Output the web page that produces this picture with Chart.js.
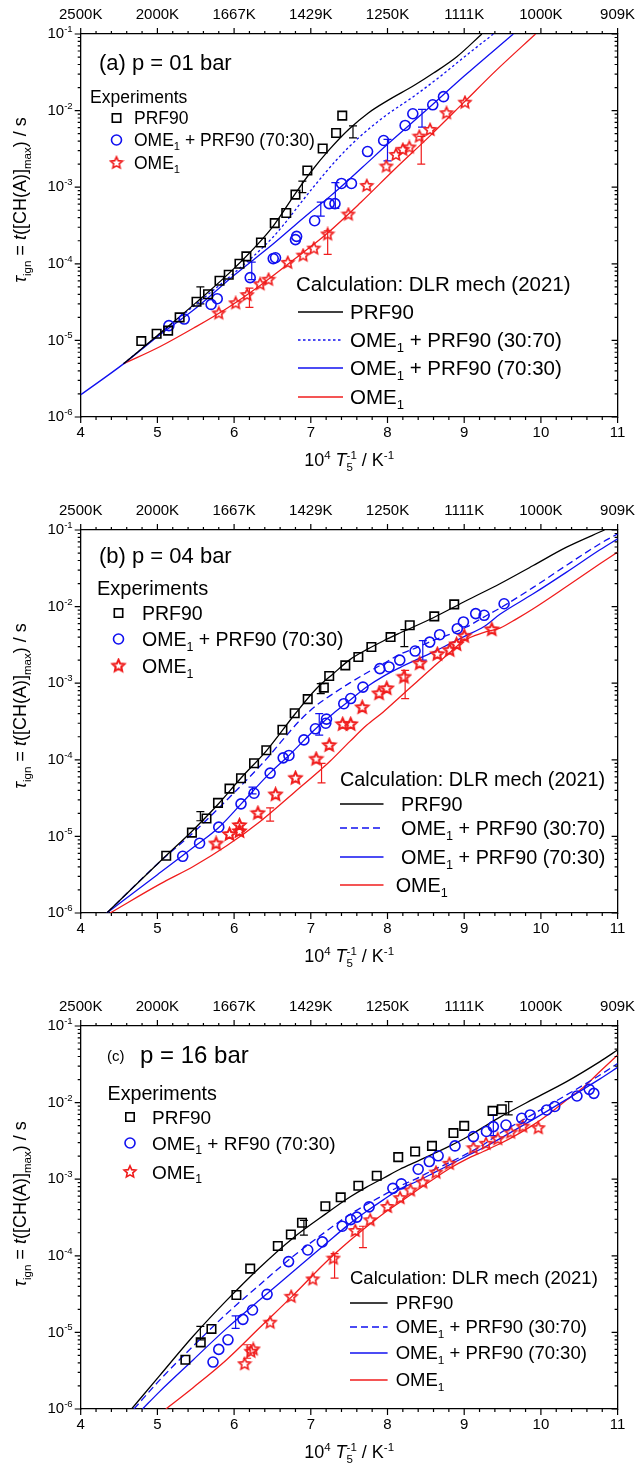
<!DOCTYPE html>
<html>
<head>
<meta charset="utf-8">
<title>Ignition delay times, DLR mech (2021)</title>
<script src="https://cdn.jsdelivr.net/npm/chart.js@4.4.1/dist/chart.umd.min.js"></script>
<style>
  html, body { margin: 0; padding: 0; background: #fff; }
  .panel { position: relative; width: 635px; }
</style>
</head>
<body>
<div class="panel" style="height:496px"><canvas id="chartA"></canvas></div>
<div class="panel" style="height:496px"><canvas id="chartB"></canvas></div>
<div class="panel" style="height:475px"><canvas id="chartC"></canvas></div>
<script>
// ---- data: [10^4/T, tau (s)] ----
const topTickLabels = ['2500K', '2000K', '1667K', '1429K', '1250K', '1111K', '1000K', '909K'];

// (a) p = 01 bar
const expA_PRF90 = [[4.79,9.8e-6],[4.99,1.22e-5],[5.14,1.34e-5],[5.29,2.0e-5],[5.51,3.2e-5],[5.66,4.0e-5],[5.81,6.0e-5],[5.93,7.2e-5],[6.07,1.0e-4],[6.16,1.25e-4],[6.35,1.9e-4],[6.53,3.4e-4],[6.68,4.6e-4],[6.80,8.0e-4],[6.955,1.65e-3],[7.155,3.2e-3],[7.33,5.1e-3],[7.41,8.6e-3]];
const expA_7030 = [[5.15,1.56e-5],[5.35,1.9e-5],[5.70,2.95e-5],[5.78,3.5e-5],[6.21,6.6e-5],[6.51,1.17e-4],[6.54,1.2e-4],[6.80,2.07e-4],[6.815,2.28e-4],[7.05,3.65e-4],[7.24,6.1e-4],[7.315,6.1e-4],[7.40,1.12e-3],[7.53,1.12e-3],[7.74,2.92e-3],[7.95,4.07e-3],[8.23,6.4e-3],[8.33,9.1e-3],[8.59,1.19e-2],[8.73,1.52e-2]];
const expA_OME1 = [[5.80,2.25e-5],[6.02,3.05e-5],[6.17,3.9e-5],[6.34,5.4e-5],[6.45,6.2e-5],[6.70,1.03e-4],[6.90,1.28e-4],[7.04,1.58e-4],[7.22,2.42e-4],[7.49,4.4e-4],[7.73,1.04e-3],[7.985,1.86e-3],[8.11,2.64e-3],[8.20,3.08e-3],[8.285,3.3e-3],[8.415,4.58e-3],[8.555,5.6e-3],[8.77,9.25e-3],[9.01,1.27e-2]];
// error bars: [x, low, high]
const errA_PRF90 = [[5.56,3.0e-5,5.0e-5],[6.89,8.5e-4,1.2e-3],[7.55,4.4e-3,6.3e-3]];
const errA_7030 = [[6.23,6.2e-5,1.05e-4],[7.13,4.2e-4,6.4e-4],[7.32,5.3e-4,1.15e-3],[8.0,2.2e-3,4.2e-3],[8.45,6.1e-3,1.04e-2]];
const errA_OME1 = [[6.2,2.7e-5,4.8e-5],[7.22,1.33e-4,2.7e-4],[8.44,2.0e-3,4.6e-3]];
const calcA_PRF90 = [[4.558,4.94e-6],[5.0,1.16e-5],[5.5,3.09e-5],[6.0,8.71e-5],[6.5,3.02e-4],[6.8,8.32e-4],[7.0,1.58e-3],[7.25,3.16e-3],[7.5,5.75e-3],[7.75,9.33e-3],[8.0,1.35e-2],[8.35,2.14e-2],[8.6,3.09e-2],[8.9,5.01e-2],[9.23,1.0e-1]];
const calcA_3070 = [[4.558,4.94e-6],[5.0,1.15e-5],[5.5,2.95e-5],[6.0,7.59e-5],[6.5,2.19e-4],[7.033,1.0e-3],[7.337,2.28e-3],[7.641,4.58e-3],[7.99,8.79e-3],[8.337,1.52e-2],[8.685,2.78e-2],[9.033,5.32e-2],[9.381,1.0e-1]];
const calcA_7030 = [[4.0,1.95e-6],[4.558,4.94e-6],[5.0,1.12e-5],[5.5,2.63e-5],[6.0,7.08e-5],[6.5,1.78e-4],[6.79,3.16e-4],[7.0,4.79e-4],[7.25,7.59e-4],[7.5,1.26e-3],[7.75,2.14e-3],[8.0,3.63e-3],[8.5,1.0e-2],[9.0,2.82e-2],[9.64,1.0e-1]];
const calcA_OME1 = [[4.558,4.94e-6],[5.037,8.32e-6],[5.473,1.45e-5],[5.908,2.63e-5],[6.344,5.25e-5],[6.78,1.135e-4],[7.216,2.51e-4],[7.65,6.31e-4],[8.1,1.74e-3],[8.554,4.68e-3],[8.989,1.26e-2],[9.424,3.4e-2],[9.93,1.0e-1]];

// (b) p = 04 bar
const expB_PRF90 = [[5.115,5.6e-6],[5.45,1.12e-5],[5.64,1.71e-5],[5.79,2.74e-5],[5.94,4.2e-5],[6.09,5.75e-5],[6.26,9.0e-5],[6.42,1.33e-4],[6.63,2.47e-4],[6.79,4.05e-4],[6.96,6.2e-4],[7.17,8.75e-4],[7.24,1.24e-3],[7.45,1.71e-3],[7.62,2.2e-3],[7.79,2.97e-3],[8.04,4.0e-3],[8.29,5.7e-3],[8.61,7.45e-3],[8.87,1.07e-2]];
const expB_7030 = [[5.33,5.5e-6],[5.55,8.15e-6],[5.80,1.32e-5],[6.09,2.66e-5],[6.26,3.66e-5],[6.47,6.7e-5],[6.64,1.06e-4],[6.715,1.14e-4],[6.91,1.82e-4],[7.06,2.54e-4],[7.195,3.0e-4],[7.205,3.4e-4],[7.43,5.4e-4],[7.52,6.3e-4],[7.68,8.9e-4],[7.90,1.55e-3],[8.02,1.63e-3],[8.16,2.0e-3],[8.36,2.63e-3],[8.55,3.44e-3],[8.68,4.3e-3],[8.91,5.15e-3],[8.99,6.3e-3],[9.15,8.1e-3],[9.26,7.7e-3],[9.52,1.09e-2]];
const expB_OME1 = [[5.765,8.0e-6],[5.94,1.06e-5],[6.07,1.16e-5],[6.07,1.39e-5],[6.31,2.0e-5],[6.54,3.5e-5],[6.80,5.75e-5],[7.07,1.02e-4],[7.24,1.54e-4],[7.415,2.9e-4],[7.52,2.9e-4],[7.67,4.8e-4],[7.89,7.3e-4],[7.99,8.5e-4],[8.215,1.2e-3],[8.42,1.8e-3],[8.65,2.38e-3],[8.81,2.69e-3],[8.90,3.2e-3],[9.0,4.1e-3],[9.36,5.0e-3]];
const errB_PRF90 = [[5.56,1.6e-5,2.1e-5],[7.13,7.3e-4,9.9e-4],[8.22,3.0e-3,5.0e-3]];
const errB_7030 = [[6.24,3.6e-5,4.4e-5],[7.11,2.1e-4,4.0e-4],[8.46,2.0e-3,3.6e-3]];
const errB_OME1 = [[6.47,1.58e-5,2.36e-5],[7.14,5.0e-5,9.0e-5],[8.23,6.3e-4,1.47e-3]];
const calcB_PRF90 = [[4.34,1.0e-6],[5.115,5.62e-6],[5.451,1.17e-5],[5.791,2.63e-5],[6.087,5.75e-5],[6.423,1.32e-4],[6.797,3.99e-4],[7.075,8.51e-4],[7.293,1.33e-3],[7.51,2.03e-3],[7.727,2.74e-3],[7.945,3.56e-3],[8.162,4.52e-3],[8.597,7.16e-3],[9.031,1.2e-2],[9.466,1.99e-2],[9.9,3.44e-2],[10.335,5.97e-2],[10.83,1.0e-1]];
const calcB_3070 = [[4.34,1.0e-6],[5.0,4.37e-6],[5.5,1.2e-5],[6.0,3.72e-5],[6.42,1.02e-4],[6.642,1.86e-4],[6.859,3.28e-4],[7.075,5.15e-4],[7.293,7.31e-4],[7.51,1.01e-3],[7.727,1.36e-3],[7.945,1.8e-3],[8.162,2.38e-3],[8.38,2.91e-3],[8.597,3.62e-3],[8.814,4.35e-3],[9.031,5.41e-3],[9.249,7.24e-3],[9.466,9.55e-3],[9.9,1.78e-2],[10.335,3.47e-2],[10.77,6.61e-2],[11.0,8.91e-2]];
const calcB_7030 = [[4.34,1.0e-6],[5.0,3.16e-6],[5.5,7.59e-6],[5.804,1.32e-5],[6.092,2.66e-5],[6.466,6.7e-5],[6.715,1.14e-4],[7.063,2.54e-4],[7.293,4.02e-4],[7.51,5.98e-4],[7.727,8.93e-4],[7.945,1.23e-3],[8.162,1.6e-3],[8.38,2.03e-3],[8.597,2.55e-3],[8.814,3.28e-3],[9.031,4.22e-3],[9.249,5.41e-3],[9.466,7.94e-3],[9.9,1.47e-2],[10.335,2.82e-2],[10.77,5.52e-2],[11.0,7.67e-2]];
const calcB_OME1 = [[4.383,1.0e-6],[5.037,2.4e-6],[5.473,4.07e-6],[5.908,7.59e-6],[6.344,1.58e-5],[6.78,3.72e-5],[7.14,7.59e-5],[7.25,9.55e-5],[7.51,1.74e-4],[7.727,2.82e-4],[7.945,4.22e-4],[8.162,6.61e-4],[8.38,1.04e-3],[8.597,1.63e-3],[8.814,2.51e-3],[8.988,3.55e-3],[9.249,4.57e-3],[9.466,5.25e-3],[9.683,6.92e-3],[9.9,9.38e-3],[10.335,1.83e-2],[10.77,3.62e-2],[11.0,5.14e-2]];

// (c) p = 16 bar
const expC_PRF90 = [[5.365,4.4e-6],[5.565,7.4e-6],[5.705,1.11e-5],[6.03,3.08e-5],[6.21,6.8e-5],[6.57,1.34e-4],[6.74,1.9e-4],[6.885,2.7e-4],[7.19,4.43e-4],[7.39,5.8e-4],[7.62,8.2e-4],[7.86,1.11e-3],[8.14,1.94e-3],[8.36,2.3e-3],[8.58,2.72e-3],[8.86,4.0e-3],[9.0,4.97e-3],[9.37,7.8e-3],[9.49,8.2e-3]];
const expC_7030 = [[5.725,4.1e-6],[5.80,6.0e-6],[5.92,8.0e-6],[6.115,1.48e-5],[6.24,1.96e-5],[6.43,3.14e-5],[6.71,8.4e-5],[6.96,1.19e-4],[7.15,1.52e-4],[7.41,2.43e-4],[7.52,2.97e-4],[7.60,3.2e-4],[7.76,4.35e-4],[8.07,7.6e-4],[8.18,8.7e-4],[8.40,1.35e-3],[8.545,1.7e-3],[8.66,2.02e-3],[8.88,2.72e-3],[9.12,3.6e-3],[9.29,4.2e-3],[9.38,4.86e-3],[9.545,5.1e-3],[9.75,6.25e-3],[9.86,6.9e-3],[10.075,8.0e-3],[10.18,8.9e-3],[10.47,1.22e-2],[10.63,1.49e-2],[10.69,1.32e-2]];
const expC_OME1 = [[6.137,3.85e-6],[6.22,5.6e-6],[6.25,6.0e-6],[6.47,1.34e-5],[6.745,2.92e-5],[7.025,4.92e-5],[7.295,9.2e-5],[7.58,2.11e-4],[7.775,2.91e-4],[8.0,4.34e-4],[8.164,5.66e-4],[8.30,7.13e-4],[8.46,9.06e-4],[8.633,1.22e-3],[8.807,1.59e-3],[9.12,2.54e-3],[9.285,2.9e-3],[9.437,3.33e-3],[9.606,4.06e-3],[9.763,4.86e-3],[9.967,4.64e-3]];
const errC_PRF90 = [[5.56,8.0e-6,1.2e-5],[6.91,1.86e-4,2.9e-4],[9.58,6.9e-3,1.03e-2]];
const errC_7030 = [[6.02,1.13e-5,1.64e-5],[9.38,3.7e-3,6.9e-3]];
const errC_OME1 = [[6.17,4.6e-6,6.9e-6],[7.31,5.1e-5,1.07e-4],[7.68,1.28e-4,2.43e-4]];
const calcC_PRF90 = [[4.663,1.0e-6],[5.032,2.75e-6],[5.465,8.9e-6],[5.899,2.6e-5],[6.332,7.0e-5],[6.766,1.7e-4],[7.199,3.55e-4],[7.51,5.85e-4],[7.727,7.89e-4],[7.945,1.03e-3],[8.162,1.35e-3],[8.38,1.7e-3],[8.597,2.14e-3],[8.814,2.72e-3],[9.031,3.53e-3],[9.249,4.78e-3],[9.466,6.46e-3],[9.9,1.11e-2],[10.335,1.88e-2],[10.77,3.43e-2],[11.0,4.86e-2]];
const calcC_3070 = [[4.694,1.0e-6],[5.032,2.4e-6],[5.465,6.6e-6],[5.899,1.74e-5],[6.332,4.17e-5],[6.766,9.77e-5],[7.2,2.09e-4],[7.51,3.47e-4],[7.727,4.68e-4],[7.945,6.17e-4],[8.162,8.13e-4],[8.38,1.02e-3],[8.597,1.32e-3],[8.814,1.66e-3],[9.031,2.14e-3],[9.249,2.82e-3],[9.466,3.98e-3],[9.9,7.08e-3],[10.335,1.26e-2],[10.77,2.29e-2],[11.0,3.24e-2]];
const calcC_7030 = [[4.806,1.0e-6],[5.032,1.7e-6],[5.465,4.37e-6],[5.899,1.12e-5],[6.332,2.65e-5],[6.766,6.19e-5],[7.2,1.45e-4],[7.51,2.63e-4],[7.727,3.8e-4],[7.945,5.37e-4],[8.162,7.41e-4],[8.38,9.33e-4],[8.597,1.2e-3],[8.814,1.55e-3],[9.031,2.0e-3],[9.249,2.57e-3],[9.466,3.39e-3],[9.9,6.03e-3],[10.335,1.1e-2],[10.77,2.04e-2],[11.0,2.88e-2]];
const calcC_OME1 = [[5.11,1.0e-6],[5.465,1.9e-6],[5.899,4.37e-6],[6.332,1.15e-5],[6.766,3.02e-5],[7.199,8.3e-5],[7.51,1.58e-4],[7.727,2.4e-4],[7.945,3.55e-4],[8.162,5.01e-4],[8.38,7.13e-4],[8.597,1.0e-3],[8.814,1.39e-3],[9.031,1.83e-3],[9.249,2.3e-3],[9.466,2.9e-3],[9.683,3.79e-3],[9.9,5.12e-3],[10.118,7.28e-3],[10.335,1.08e-2],[10.552,1.58e-2],[10.77,2.54e-2],[11.0,4.19e-2]];

// ---- styles ----
const FONT = '"Liberation Sans", Arial, Helvetica, sans-serif';
const BLACK = '#000000';
const BLUE = '#1010f0';
const RED = '#f01c1c';

const calcLabels = [
    ['PRF90'],
    ['OME', { sub: '1' }, ' + PRF90 (30:70)'],
    ['OME', { sub: '1' }, ' + PRF90 (70:30)'],
    ['OME', { sub: '1' }]
];

// hollow five-pointed star used as point style
function makeStar(color, lw, r) {
    const c = document.createElement('canvas');
    const n = Math.ceil(2 * r + lw + 2);
    c.width = n;
    c.height = n;
    const g = c.getContext('2d');
    g.strokeStyle = color;
    g.lineWidth = lw;
    g.beginPath();
    for (let k = 0; k < 10; k++) {
        const rr = k % 2 === 0 ? r : r * 0.47;
        const a = -Math.PI / 2 + k * Math.PI / 5;
        const px = n / 2 + rr * Math.cos(a);
        const py = n / 2 + rr * Math.sin(a);
        if (k === 0) g.moveTo(px, py); else g.lineTo(px, py);
    }
    g.closePath();
    g.stroke();
    return c;
}

// text with sub/superscripts: parts are strings or {t, i} / {sub, sup}
function drawRich(ctx, x, y, parts, size, align) {
    const small = size * 0.64;
    const items = parts.map(p => (typeof p === 'string' ? { t: p } : p));
    const font = (sz, it) => (it ? 'italic ' : '') + sz + 'px ' + FONT;
    const widths = items.map(p => {
        if (p.t !== undefined) {
            ctx.font = font(size, p.i);
            return ctx.measureText(p.t).width;
        }
        ctx.font = font(small, false);
        return Math.max(p.sub ? ctx.measureText(p.sub).width : 0, p.sup ? ctx.measureText(p.sup).width : 0);
    });
    const total = widths.reduce((s, w) => s + w, 0);
    let cx = align === 'right' ? x - total : align === 'center' ? x - total / 2 : x;
    const base = y + size * 0.35;
    ctx.textAlign = 'left';
    ctx.textBaseline = 'alphabetic';
    items.forEach((p, k) => {
        if (p.t !== undefined) {
            ctx.font = font(size, p.i);
            ctx.fillText(p.t, cx, base);
        } else {
            ctx.font = font(small, false);
            if (p.sub) ctx.fillText(p.sub, cx, base + size * 0.24);
            if (p.sup) ctx.fillText(p.sup, cx, base - size * 0.42);
        }
        cx += widths[k];
    });
}

function drawMarker(ctx, kind, color, x, y, star) {
    ctx.save();
    ctx.strokeStyle = color;
    ctx.lineWidth = 1.6;
    if (kind === 'square') {
        ctx.strokeRect(x - 4.2, y - 4.2, 8.4, 8.4);
    } else if (kind === 'circle') {
        ctx.beginPath();
        ctx.arc(x, y, 5, 0, Math.PI * 2);
        ctx.stroke();
    } else {
        ctx.drawImage(star, x - star.width / 2, y - star.height / 2);
    }
    ctx.restore();
}

// ---- panel layout (pixel positions of text and legend, not data) ----
const panels = {
    chartA: {
        height: 496, dash: [2.5, 2.5], starWidth: 1.6,
        calc: [calcA_PRF90, calcA_3070, calcA_7030, calcA_OME1],
        exp: [expA_PRF90, expA_7030, expA_OME1],
        err: [errA_PRF90, errA_7030, errA_OME1],
        expLabels: [['PRF90'], ['OME', { sub: '1' }, ' + PRF90 (70:30)'], ['OME', { sub: '1' }]],
        title: [{ parts: ['(a) p = 01 bar'], x: 99, y: 62, size: 22 }],
        expHead: { x: 90, y: 97, size: 17.5 },
        expRows: { mx: 116.5, tx: 134, ys: [118, 140, 163], size: 17.5 },
        calcHead: { x: 296, y: 284, size: 20.5 },
        calcRows: { x0: 298, x1: 343, tx: [350, 350, 350, 350], ys: [312, 340, 368, 397], size: 20.5 },
        yTitleY: 200
    },
    chartB: {
        height: 496, dash: [7, 4], starWidth: 2.1,
        calc: [calcB_PRF90, calcB_3070, calcB_7030, calcB_OME1],
        exp: [expB_PRF90, expB_7030, expB_OME1],
        err: [errB_PRF90, errB_7030, errB_OME1],
        expLabels: [['PRF90'], ['OME', { sub: '1' }, ' + PRF90 (70:30)'], ['OME', { sub: '1' }]],
        title: [{ parts: ['(b) p = 04 bar'], x: 99, y: 59, size: 22 }],
        expHead: { x: 97, y: 92, size: 20 },
        expRows: { mx: 118.5, tx: 142, ys: [117, 143, 170], size: 19.5 },
        calcHead: { x: 340, y: 283, size: 19.8 },
        calcRows: { x0: 340, x1: 383.5, tx: [401, 401, 401, 395.7], ys: [308, 332, 361, 389], size: 19.8 },
        yTitleY: 210
    },
    chartC: {
        height: 475, dash: [7, 4], starWidth: 1.6,
        calc: [calcC_PRF90, calcC_3070, calcC_7030, calcC_OME1],
        exp: [expC_PRF90, expC_7030, expC_OME1],
        err: [errC_PRF90, errC_7030, errC_OME1],
        expLabels: [['PRF90'], ['OME', { sub: '1' }, ' + RF90 (70:30)'], ['OME', { sub: '1' }]],
        title: [{ parts: ['(c)'], x: 107, y: 64, size: 15 }, { parts: ['p = 16 bar'], x: 140, y: 63, size: 24 }],
        expHead: { x: 107.5, y: 101, size: 19.7 },
        expRows: { mx: 130, tx: 152, ys: [125, 151, 180], size: 19 },
        calcHead: { x: 350, y: 286, size: 18.5 },
        calcRows: { x0: 350, x1: 387.6, tx: [395.7, 395.7, 395.7, 395.7], ys: [311, 335, 361, 388], size: 18.5 },
        yTitleY: 212
    }
};

const expKinds = ['square', 'circle', 'star'];
const expColors = [BLACK, BLUE, RED];
const calcColors = [BLACK, BLUE, BLUE, RED];

const framePlugin = {
    id: 'frame',
    beforeDatasetsDraw(chart) {
        // error bars below the markers
        const p = panels[chart.canvas.id];
        const { ctx, scales } = chart;
        ctx.save();
        ctx.lineWidth = 1.2;
        p.err.forEach((set, k) => {
            ctx.strokeStyle = expColors[k];
            ctx.beginPath();
            set.forEach(([x, lo, hi]) => {
                const px = scales.x.getPixelForValue(x);
                const p1 = scales.y.getPixelForValue(lo);
                const p2 = scales.y.getPixelForValue(hi);
                ctx.moveTo(px, p1); ctx.lineTo(px, p2);
                ctx.moveTo(px - 4, p1); ctx.lineTo(px + 4, p1);
                ctx.moveTo(px - 4, p2); ctx.lineTo(px + 4, p2);
            });
            ctx.stroke();
        });
        ctx.restore();
    },
    afterDraw(chart) {
        const p = panels[chart.canvas.id];
        const { ctx, chartArea: a, scales } = chart;
        const xs = scales.x;
        const ys = scales.y;
        ctx.save();

        // tick marks: out on left/top/bottom, in on the right
        ctx.strokeStyle = '#000';
        ctx.lineWidth = 1.2;
        ctx.beginPath();
        for (let i = 0; i <= 35; i++) {
            const px = xs.getPixelForValue(4 + i * 0.2);
            const len = i % 5 === 0 ? 6 : 3;
            ctx.moveTo(px, a.bottom); ctx.lineTo(px, a.bottom + len);
            ctx.moveTo(px, a.top); ctx.lineTo(px, a.top - len);
        }
        for (let e = -6; e <= -1; e++) {
            for (let m = 1; m <= (e === -1 ? 1 : 9); m++) {
                const py = ys.getPixelForValue(m * Math.pow(10, e));
                const len = m === 1 ? 6 : 3;
                ctx.moveTo(a.left, py); ctx.lineTo(a.left - len, py);
                ctx.moveTo(a.right, py); ctx.lineTo(a.right - len, py);
            }
        }
        ctx.stroke();

        // y tick labels 10^n
        ctx.fillStyle = '#000';
        for (let e = -6; e <= -1; e++) {
            drawRich(ctx, a.left - 8, ys.getPixelForValue(Math.pow(10, e)) - 1, ['10', { sup: String(e) }], 15, 'right');
        }

        // axis titles
        drawRich(ctx, (a.left + a.right) / 2, 460, ['10', { sup: '4' }, ' ', { t: 'T', i: true }, { sub: '5', sup: '-1' }, ' / K', { sup: '-1' }], 18, 'center');
        ctx.save();
        ctx.translate(20, p.yTitleY);
        ctx.rotate(-Math.PI / 2);
        drawRich(ctx, 0, 0, [{ t: 'τ', i: true }, { sub: 'ign' }, ' = ', { t: 't', i: true }, '([CH(A)]', { sub: 'max' }, ') / s'], 18, 'center');
        ctx.restore();

        // panel title
        p.title.forEach(t => drawRich(ctx, t.x, t.y, t.parts, t.size, 'left'));

        // experiments legend
        drawRich(ctx, p.expHead.x, p.expHead.y, ['Experiments'], p.expHead.size, 'left');
        p.expLabels.forEach((lab, k) => {
            const y = p.expRows.ys[k];
            drawMarker(ctx, expKinds[k], expColors[k], p.expRows.mx, y, p.star);
            drawRich(ctx, p.expRows.tx, y, lab, p.expRows.size, 'left');
        });

        // calculation legend
        drawRich(ctx, p.calcHead.x, p.calcHead.y, ['Calculation: DLR mech (2021)'], p.calcHead.size, 'left');
        calcLabels.forEach((lab, k) => {
            const y = p.calcRows.ys[k];
            ctx.save();
            ctx.strokeStyle = calcColors[k];
            ctx.lineWidth = 1.4;
            ctx.setLineDash(k === 1 ? p.dash : []);
            ctx.beginPath();
            ctx.moveTo(p.calcRows.x0, y);
            ctx.lineTo(p.calcRows.x1, y);
            ctx.stroke();
            ctx.restore();
            drawRich(ctx, p.calcRows.tx[k], y, lab, p.calcRows.size, 'left');
        });
        ctx.restore();
    }
};

const toXY = arr => arr.map(([x, y]) => ({ x, y }));

function buildChart(id) {
    const p = panels[id];
    p.star = makeStar(RED, p.starWidth, 6.2);
    const H = p.height;
    const datasets = [];
    p.calc.forEach((c, k) => {
        datasets.push({
            data: toXY(c),
            showLine: true,
            borderColor: calcColors[k],
            borderWidth: 1.3,
            borderDash: k === 1 ? p.dash : [],
            pointRadius: 0,
            pointHoverRadius: 0,
            fill: false,
            cubicInterpolationMode: 'monotone',
            order: 2
        });
    });
    p.exp.forEach((e, k) => {
        datasets.push({
            data: toXY(e),
            showLine: false,
            pointStyle: k === 2 ? p.star : (k === 0 ? 'rect' : 'circle'),
            pointRadius: k === 0 ? 6 : 5,
            pointHoverRadius: k === 0 ? 6 : 5,
            pointBorderWidth: 1.6,
            borderColor: expColors[k],
            backgroundColor: 'rgba(0,0,0,0)',
            order: 1
        });
    });

    const border = { display: true, color: '#000', width: 1.3 };
    const tickFont = { family: FONT, size: 15 };

    new Chart(document.getElementById(id), {
        type: 'scatter',
        data: { datasets },
        options: {
            responsive: true,
            maintainAspectRatio: false,
            animation: false,
            events: [],
            layout: { padding: 0 },
            plugins: { legend: { display: false }, tooltip: { enabled: false } },
            scales: {
                x: {
                    type: 'linear', position: 'bottom', min: 4, max: 11,
                    ticks: { stepSize: 1, autoSkip: false, maxRotation: 0, color: '#000', font: tickFont, padding: 7 },
                    grid: { display: false, drawTicks: false },
                    border,
                    afterFit: s => { s.height = H - 417; s.paddingLeft = 0; s.paddingRight = 0; }
                },
                x2: {
                    type: 'linear', position: 'top', min: 4, max: 11,
                    ticks: {
                        stepSize: 1, autoSkip: false, maxRotation: 0, color: '#000', font: tickFont, padding: 10,
                        callback: v => topTickLabels[Math.round(v) - 4]
                    },
                    grid: { display: false, drawTicks: false },
                    border,
                    afterFit: s => { s.height = 34; s.paddingLeft = 0; s.paddingRight = 0; }
                },
                y: {
                    type: 'logarithmic', position: 'left', min: 1e-6, max: 1e-1,
                    ticks: { display: false },
                    grid: { display: false, drawTicks: false },
                    border,
                    afterFit: s => { s.width = 80.7; }
                },
                y2: {
                    type: 'logarithmic', position: 'right', min: 1e-6, max: 1e-1,
                    ticks: { display: false },
                    grid: { display: false, drawTicks: false },
                    border,
                    afterFit: s => { s.width = 17.4; }
                }
            }
        },
        plugins: [framePlugin]
    });
}

buildChart('chartA');
buildChart('chartB');
buildChart('chartC');
</script>
</body>
</html>
